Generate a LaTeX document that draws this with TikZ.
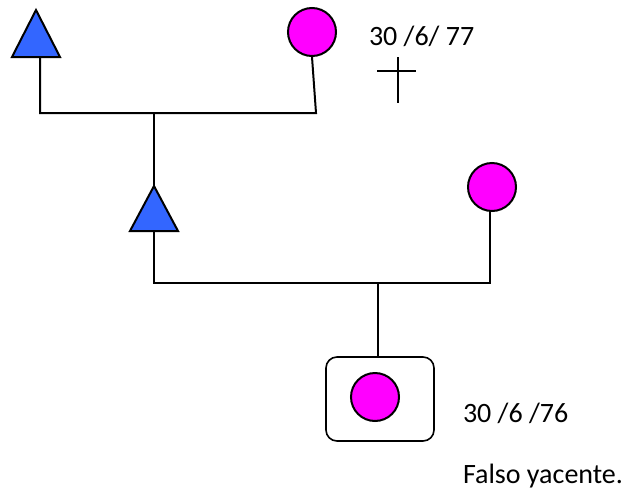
\documentclass[tikz,border=0pt]{standalone}
\usepackage{fontspec}
\setmainfont{Carlito}
\definecolor{triblue}{HTML}{3366FF}
\definecolor{femmag}{HTML}{FF00FF}
\begin{document}
\begin{tikzpicture}[x=1pt,y=-1pt,
  line width=2pt, line join=miter,
  female/.style={circle, draw=black, fill=femmag, minimum size=48pt, inner sep=0pt, line width=2pt},
  male/.style={draw=black, fill=triblue, line width=2pt, line join=miter},
  conn/.style={draw=black, line width=2pt},
  lbl/.style={anchor=west, inner sep=0pt, font=\fontsize{28}{34}\selectfont},
  probandbox/.style={draw=black, rounded corners=11pt, minimum width=108pt, minimum height=84pt, inner sep=0pt, line width=1.6pt}]
\useasboundingbox (0,0) rectangle (632,493);
% generation I
\coordinate (t1apex) at (36,10);
\coordinate (t1base) at (40,57);
\path[male] (12,57) -- (t1apex) -- (60,57) -- cycle;
\node[female] (m1) at (312,32) {};
\coordinate (j1l) at (40,113);
\coordinate (j1r) at (316,113);
\coordinate (j1c) at (154,113);
\draw[conn] (t1base) -- (j1l) -- (j1r) -- (m1.south);
\node[lbl] (d77) at (368,36) {30 /6/ 77};
\coordinate (crossT) at (398,57);
\coordinate (crossB) at (398,103);
\coordinate (crossL) at (377,71);
\coordinate (crossR) at (416,71);
\draw[line width=1.5pt] (crossT) -- (crossB);
\draw[line width=1.5pt] (crossL) -- (crossR);
% generation II
\coordinate (t2apex) at (154,186);
\coordinate (t2base) at (154,231);
\draw[conn] (j1c) -- (t2apex);
\path[male] (130,231) -- (t2apex) -- (178,231) -- cycle;
\node[female] (m2) at (492,187) {};
\coordinate (j2l) at (154,283);
\coordinate (j2r) at (490,283);
\coordinate (j2c) at (378,283);
\draw[conn] (t2base) -- (j2l) -- (j2r) -- (490,211);
% proband
\node[probandbox] (pbox) at (380,399) {};
\node[female] (p) at (375,397) {};
\draw[conn] (j2c) -- (j2c |- pbox.north);
\node[lbl] (d76) at (462,413) {30 /6 /76};
\node[lbl] (fy) at (462,476) {Falso yacente.};
\end{tikzpicture}
\end{document}
